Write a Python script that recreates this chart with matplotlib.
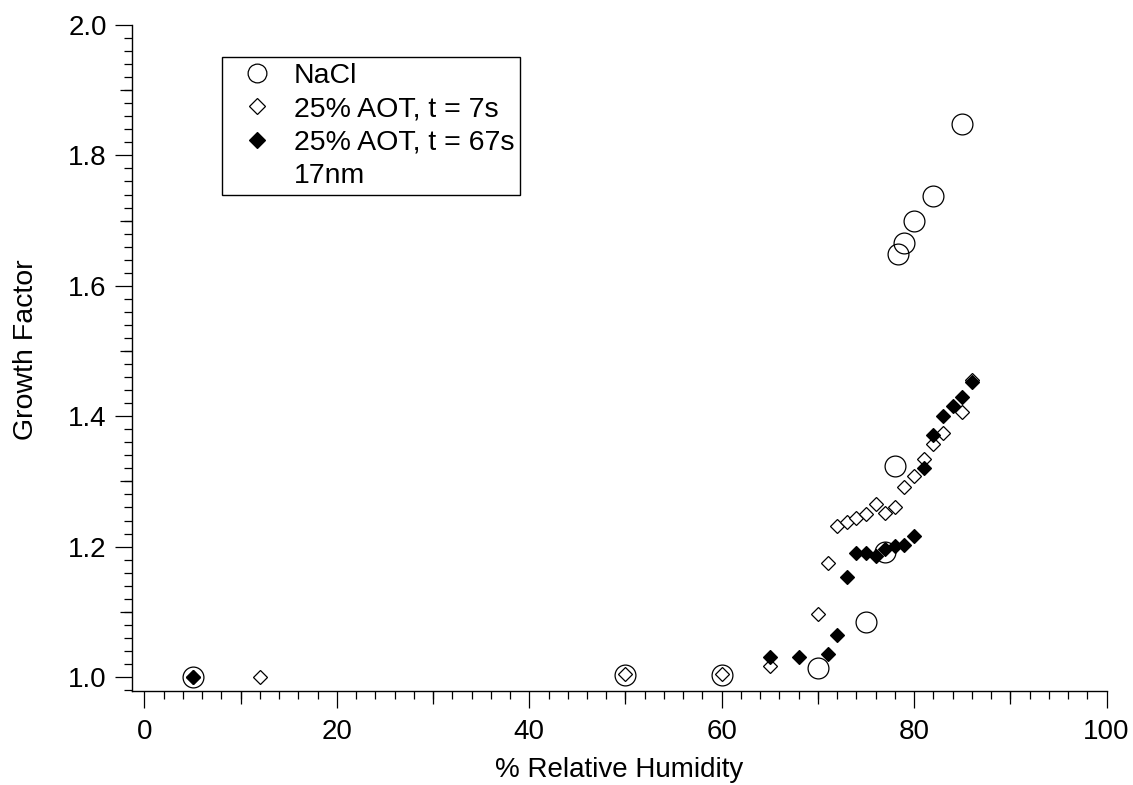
import matplotlib
matplotlib.use("Agg")
import matplotlib.pyplot as plt
from matplotlib.lines import Line2D
from matplotlib.ticker import MultipleLocator

plt.rcParams['font.family'] = ['Liberation Sans', 'DejaVu Sans']

# Hygroscopic growth factor vs relative humidity
nacl_rh = [5, 50, 60, 70, 75, 77, 78, 78.3, 79, 80, 82, 85]
nacl_gf = [1.000, 1.003, 1.003, 1.014, 1.084, 1.192, 1.323, 1.649, 1.665, 1.699, 1.738, 1.848]

aot7_rh = [5, 12, 50, 60, 65, 70, 71, 72, 73, 74, 75, 76, 77, 78, 79, 80, 81, 82, 83, 85, 86]
aot7_gf = [1.000, 1.000, 1.005, 1.005, 1.017, 1.096, 1.175, 1.232, 1.237, 1.244, 1.250,
           1.266, 1.252, 1.261, 1.292, 1.308, 1.335, 1.358, 1.374, 1.407, 1.456]

aot67_rh = [5, 65, 68, 71, 72, 73, 74, 75, 76, 77, 78, 79, 80, 81, 82, 83, 84, 85, 86]
aot67_gf = [1.000, 1.031, 1.030, 1.036, 1.064, 1.153, 1.190, 1.190, 1.185, 1.196, 1.201,
            1.202, 1.216, 1.320, 1.371, 1.400, 1.415, 1.430, 1.452]

legend_labels = ["NaCl", "25% AOT, t = 7s", "25% AOT, t = 67s", "17nm"]

W, H = 1133, 785
fig = plt.figure(figsize=(W / 100, H / 100), dpi=100)
ax = fig.add_axes([131.7 / W, 1 - 691 / H, (1106.5 - 131.7) / W, (691 - 25) / H])

ax.plot(nacl_rh, nacl_gf, ls='none', marker='o', ms=15, mfc='none', mec='black', mew=0.9, zorder=3)
ax.plot(aot7_rh, aot7_gf, ls='none', marker='D', ms=6.7, mfc='white', mec='black', mew=0.9, zorder=4)
ax.plot(aot67_rh, aot67_gf, ls='none', marker='D', ms=6.7, mfc='black', mec='black', mew=0.9, zorder=5)

ax.set_xlim(-1.33, 100)
ax.set_ylim(0.9785, 2.0)

for s in ('top', 'right'):
    ax.spines[s].set_visible(False)
for s in ('left', 'bottom'):
    ax.spines[s].set_linewidth(1.0)

ax.xaxis.set_major_locator(MultipleLocator(20))
ax.xaxis.set_minor_locator(MultipleLocator(2))
ax.yaxis.set_major_locator(MultipleLocator(0.2))
ax.yaxis.set_minor_locator(MultipleLocator(0.02))
ax.set_xticks(range(0, 101, 20))
ax.set_yticks([1.0, 1.2, 1.4, 1.6, 1.8, 2.0])
ax.set_yticklabels(["1.0", "1.2", "1.4", "1.6", "1.8", "2.0"])

ax.tick_params(which='major', direction='out', length=12, width=0.9, labelsize=20)
ax.tick_params(which='minor', direction='out', length=6, width=0.9)
ax.tick_params(axis='x', which='major', pad=8)
ax.tick_params(axis='y', which='major', pad=6)

# intermediate-length ticks halfway between the labelled ones
secx = ax.secondary_xaxis('bottom')
secx.set_xticks(range(10, 100, 20))
secx.tick_params(length=9, width=0.9, labelbottom=False)
secx.spines['bottom'].set_visible(False)
secy = ax.secondary_yaxis('left')
secy.set_yticks([1.1, 1.3, 1.5, 1.7, 1.9])
secy.tick_params(length=9, width=0.9, labelleft=False)
secy.spines['left'].set_visible(False)

ax.set_xlabel("% Relative Humidity", fontsize=20, labelpad=9)
ax.set_ylabel("Growth Factor", fontsize=20.5)
ax.yaxis.set_label_coords(-0.0951, 0.512)

handles = [
    Line2D([], [], ls='none', marker='o', ms=13.5, mfc='none', mec='black', mew=0.9),
    Line2D([], [], ls='none', marker='D', ms=8.0, mfc='white', mec='black', mew=0.9),
    Line2D([], [], ls='none', marker='D', ms=8.5, mfc='black', mec='black', mew=0.9),
    Line2D([], [], ls='none'),
]
leg = fig.legend(handles, legend_labels, loc='upper left',
                 bbox_to_anchor=(222 / W, 1 - 57 / H), bbox_transform=fig.transFigure,
                 fontsize=20.5, frameon=True, fancybox=False, framealpha=1,
                 edgecolor='black', borderpad=0.2, handlelength=2.05,
                 handletextpad=0.27, labelspacing=0.26, borderaxespad=0)
leg.get_frame().set_linewidth(1.0)

fig.savefig("out.png", dpi=100)
